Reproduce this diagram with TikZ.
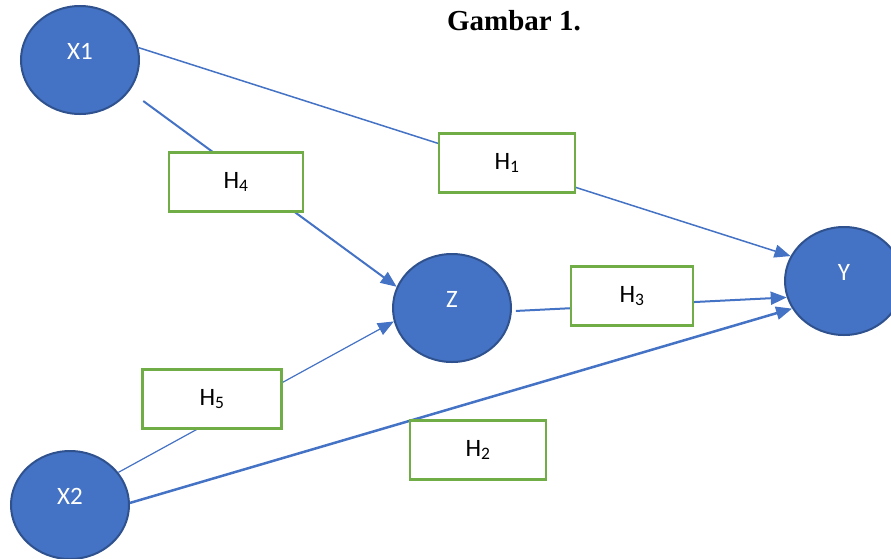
\documentclass[tikz,border=0pt]{standalone}
\usepackage{fontspec}
\setmainfont{Carlito}
\newfontfamily\titlefont{Liberation Serif}
\usetikzlibrary{shapes,arrows.meta}
\definecolor{varblue}{HTML}{4472C4}
\definecolor{varedge}{HTML}{2F528F}
\definecolor{hypgreen}{HTML}{70AD47}

\begin{document}
\begin{tikzpicture}
[x=1pt, y=-1pt, font=\fontsize{25}{30}\selectfont,
 var/.style={shape=ellipse, fill=varblue, draw=varedge, line width=2pt, text=white,
   minimum width=118pt, minimum height=108pt, inner sep=0pt, text depth=18pt},
 hyp/.style={draw=hypgreen, fill=white, line width=2.5pt, minimum width=136pt, minimum height=59pt},
 link/.style={draw=varblue, line width=1.5pt, -{Triangle[length=16pt,width=13pt]}}]
\useasboundingbox (0,0) rectangle (891,558);
\node[font=\titlefont\bfseries\fontsize{29}{34}\selectfont] (title) at (514,21) {Gambar 1.};
% variables
\node[var] (X1) at (80,60) {X1};
\node[var] (X2) at (70,505) {X2};
\node[var] (Z) at (452,308) {Z};
\node[var] (Y) at (844,281) {Y};
% paths
\draw[link] (X1.12) -- (Y.155);
\draw[link, line width=2pt, shorten <=17pt] (X1.-32) -- (Z.159);
\draw[link, line width=1.2pt] (X2.34) -- (Z.193);
\draw[link, line width=2.5pt] (X2.2) -- (Y.208);
\draw[link, line width=2pt, shorten <=4pt] (Z.-3) -- (Y.196);
% hypotheses
\node[hyp] (H1) at (507,163) {H\textsubscript{1}};
\node[hyp] (H2) at (478,450) {H\textsubscript{2}};
\node[hyp, minimum width=122pt] (H3) at (632,296) {H\textsubscript{3}};
\node[hyp, minimum width=134pt] (H4) at (236,182) {H\textsubscript{4}};
\node[hyp, minimum width=139pt] (H5) at (212,399) {H\textsubscript{5}};
\end{tikzpicture}
\end{document}
